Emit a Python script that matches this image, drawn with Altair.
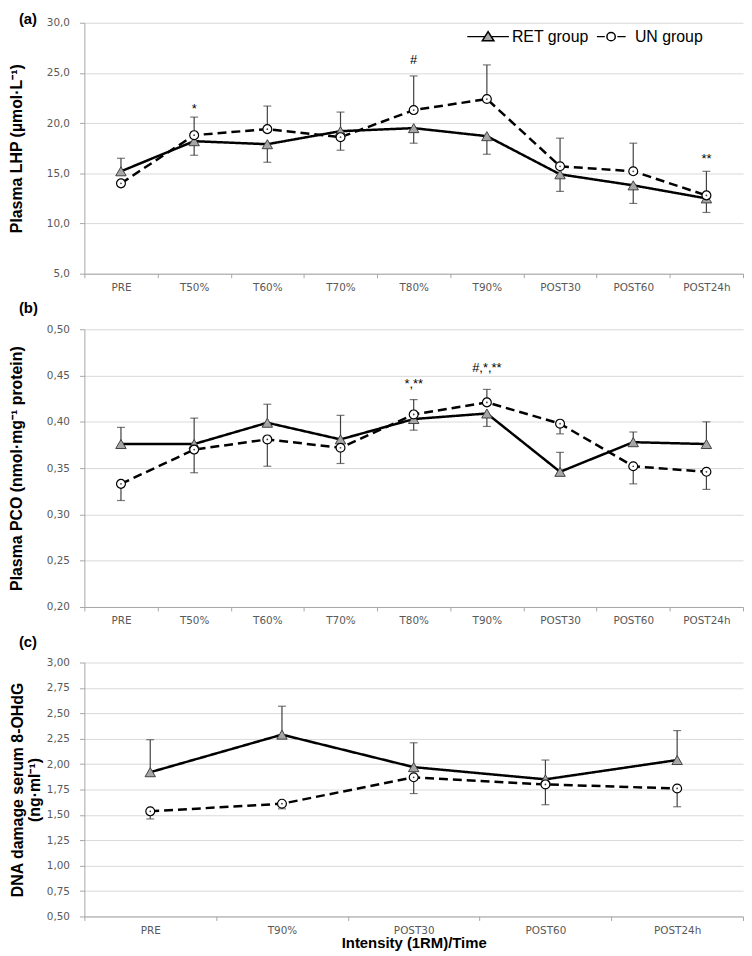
import altair as alt
import pandas as pd
import numpy as np

# ---------------- data ----------------
groups = ["RET group", "UN group"]
times9 = ["PRE", "T50%", "T60%", "T70%", "T80%", "T90%", "POST30", "POST60", "POST24h"]
times5 = ["PRE", "T90%", "POST30", "POST60", "POST24h"]

# (a) Plasma LHP
lhp_ret = [15.2, 18.2, 17.9, 19.2, 19.5, 18.7, 14.9, 13.8, 12.5]
lhp_ret_err = [16.5, 16.8, 16.1, 21.1, 18.0, 16.9, 13.2, 12.0, 11.1]
lhp_un = [14.0, 18.8, 19.4, 18.6, 21.3, 22.4, 15.7, 15.2, 12.8]
lhp_un_err = [np.nan, 20.6, 21.7, 17.3, 24.7, 25.8, 18.5, 18.0, 15.2]
lhp_ann_time = ["T50%", "T80%", "POST24h"]
lhp_ann_y = [21.0, 25.9, 16.0]
lhp_ann_text = ["*", "#", "**"]

# (b) Plasma PCO
pco_ret = [0.376, 0.376, 0.399, 0.381, 0.403, 0.409, 0.346, 0.378, 0.376]
pco_ret_err = [0.394, 0.404, 0.419, 0.407, 0.391, 0.395, 0.367, 0.389, 0.400]
pco_un = [0.333, 0.370, 0.381, 0.372, 0.408, 0.421, 0.398, 0.352, 0.346]
pco_un_err = [0.315, 0.345, 0.352, 0.355, 0.424, 0.435, 0.387, 0.333, 0.327]
pco_ann_time = ["T80%", "T90%"]
pco_ann_y = [0.436, 0.454]
pco_ann_text = ["*,**", "#,*,**"]

# (c) DNA damage 8-OHdG
dna_ret = [1.92, 2.29, 1.97, 1.85, 2.04]
dna_ret_err = [2.24, 2.57, 2.21, 2.04, 2.33]
dna_un = [1.535, 1.61, 1.87, 1.80, 1.76]
dna_un_err = [1.46, 1.56, 1.71, 1.60, 1.58]

lhp_ticks = [5, 10, 15, 20, 25, 30]
pco_ticks = [0.20, 0.25, 0.30, 0.35, 0.40, 0.45, 0.50]
dna_ticks = [0.50, 0.75, 1.00, 1.25, 1.50, 1.75, 2.00, 2.25, 2.50, 2.75, 3.00]

RET_PATH = "M-1,0L-0.17,0M0.17,0L1,0M-0.28,0.2L0,-0.24L0.28,0.2Z"
UN_PATH = ("M-0.68,0L-0.3,0M0.3,0L0.7,0M0.2,0A0.2,0.2,0,1,1,-0.2,0"
           "A0.2,0.2,0,1,1,0.2,0")

AXIS_GRAY = "#a6a6a6"
LABEL_FONT = "DejaVu Sans"
TITLE_FONT = "Liberation Sans"


def make_df(times, ret, ret_err, un, un_err):
    rows = []
    for t, v, e in zip(times, ret, ret_err):
        rows.append({"time": t, "group": groups[0], "value": v, "err": e})
    for t, v, e in zip(times, un, un_err):
        rows.append({"time": t, "group": groups[1], "value": v, "err": e})
    return pd.DataFrame(rows)


def legend_params():
    return alt.Legend(title=None, orient="none", legendX=385, legendY=-8,
                      direction="horizontal", symbolSize=1764, symbolOpacity=1,
                      symbolStrokeWidth=1.5, labelFont=TITLE_FONT, labelFontSize=16,
                      labelColor="black", labelOffset=2, columnPadding=0, padding=0)


def panel(times, ret, ret_err, un, un_err, ydomain, yticks, decimals, ytitle,
          ptitle, height, title_pad, title_offset, ann=None, legend=False,
          xtitle=None):
    df = make_df(times, ret, ret_err, un, un_err)
    base = alt.Chart(df)
    xaxis = alt.Axis(labelAngle=0, tickBand="extent", tickSize=4, labelPadding=5,
                     domainColor=AXIS_GRAY, tickColor=AXIS_GRAY, grid=False,
                     labelFont=LABEL_FONT, labelFontSize=10.5, labelColor="#595959",
                     titleFont=TITLE_FONT, titleFontSize=15, titleFontWeight="bold",
                     titleColor="black", titlePadding=0)
    x = alt.X("time:N", sort=times,
              scale=alt.Scale(type="band", domain=times, paddingInner=0, paddingOuter=0),
              axis=xaxis, bandPosition=0.5, title=xtitle)
    expr = "replace(format(datum.value, '.%df'), '.', ',')" % decimals
    yaxis = alt.Axis(values=yticks, labelExpr=expr, labelOverlap=False, grid=True,
                     gridColor="#d9d9d9", domainColor=AXIS_GRAY, tickColor=AXIS_GRAY,
                     tickSize=5, labelPadding=10, labelFont=LABEL_FONT,
                     labelFontSize=10.5, labelColor="#595959", titleFont=TITLE_FONT,
                     titleFontSize=16, titleFontWeight="bold", titleColor="black",
                     titlePadding=title_pad, titleLineHeight=17)
    yscale = alt.Scale(domain=ydomain, nice=False, zero=False)
    y = alt.Y("value:Q", scale=yscale, axis=yaxis, title=ytitle)
    y_err = alt.Y("err:Q", scale=yscale, axis=yaxis, title=ytitle)

    valid = base.transform_filter("isValid(datum.err) && isFinite(datum.err)")
    rules = valid.mark_rule(color="#404040", strokeWidth=1.2).encode(
        x=x, y=y, y2="err:Q")
    caps = valid.mark_tick(color="#404040", thickness=1.2, size=8).encode(
        x=x, y=y_err)

    dash = alt.StrokeDash("group:N",
                          scale=alt.Scale(domain=groups, range=[[1, 0], [9, 5]]),
                          legend=None)
    lines = base.mark_line(strokeWidth=2.5, color="black").encode(
        x=x, y=y, strokeDash=dash)

    tri = base.transform_filter(alt.datum.group == groups[0]).mark_point(
        shape="triangle-up", filled=True, fill="#a6a6a6", stroke="#404040",
        strokeWidth=1, size=110, opacity=1).encode(x=x, y=y)
    circ = base.transform_filter(alt.datum.group == groups[1]).mark_point(
        shape="circle", filled=True, fill="white", stroke="black",
        strokeWidth=1.2, size=80, opacity=1).encode(x=x, y=y)
    dot = base.transform_filter(alt.datum.group == groups[1]).mark_point(
        shape="circle", filled=True, fill="#404040", size=3, opacity=1).encode(x=x, y=y)

    layers = [rules, caps, lines, tri, circ, dot]
    if ann is not None:
        adf = pd.DataFrame({"time": ann[0], "value": ann[1], "label": ann[2]})
        txt = alt.Chart(adf).mark_text(font=TITLE_FONT, fontSize=13, baseline="alphabetic",
                                       color="black").encode(x=x, y=y, text="label:N")
        layers.append(txt)
    if legend:
        # legend-only layer: no marks drawn, entries come from the explicit scale domains
        leg = base.transform_filter("false").mark_point(
            filled=True, stroke="black", strokeWidth=1.5, opacity=1).encode(
            x=x, y=y,
            shape=alt.Shape("group:N", scale=alt.Scale(domain=groups,
                                                       range=[RET_PATH, UN_PATH]),
                            legend=legend_params()),
            fill=alt.Fill("group:N", scale=alt.Scale(domain=groups,
                                                     range=["#a6a6a6", "white"]),
                          legend=legend_params()))
        layers.append(leg)

    return alt.layer(*layers).properties(
        width=664, height=height,
        title=alt.TitleParams(ptitle, anchor="start", frame="group", font=TITLE_FONT,
                              fontSize=15, fontWeight="bold", color="black",
                              offset=title_offset, dx=-66))


pa = panel(times9, lhp_ret, lhp_ret_err, lhp_un, lhp_un_err, [5, 30], lhp_ticks, 1,
           "Plasma LHP (µmol·L⁻¹)", "(a)", 253, 22, -12,
           ann=(lhp_ann_time, lhp_ann_y, lhp_ann_text), legend=True)
pb = panel(times9, pco_ret, pco_ret_err, pco_un, pco_un_err, [0.2, 0.5], pco_ticks, 2,
           "Plasma PCO (nmol·mg⁻¹ protein)", "(b)", 280, 22, 8,
           ann=(pco_ann_time, pco_ann_y, pco_ann_text))
pc = panel(times5, dna_ret, dna_ret_err, dna_un, dna_un_err, [0.5, 3.0], dna_ticks, 2,
           ["DNA damage serum 8-OHdG", "(ng·ml⁻¹)"], "(c)", 256, 4, 8,
           xtitle="Intensity (1RM)/Time")

chart = alt.vconcat(pa, pb, pc, spacing=8).resolve_scale(
    shape="independent", fill="independent").properties(
    padding={"left": 0, "top": 0, "right": 0, "bottom": 0}, background="white"
).configure_view(stroke=None)

chart.save("out.html", embed_options={"renderer": "svg", "actions": False})
